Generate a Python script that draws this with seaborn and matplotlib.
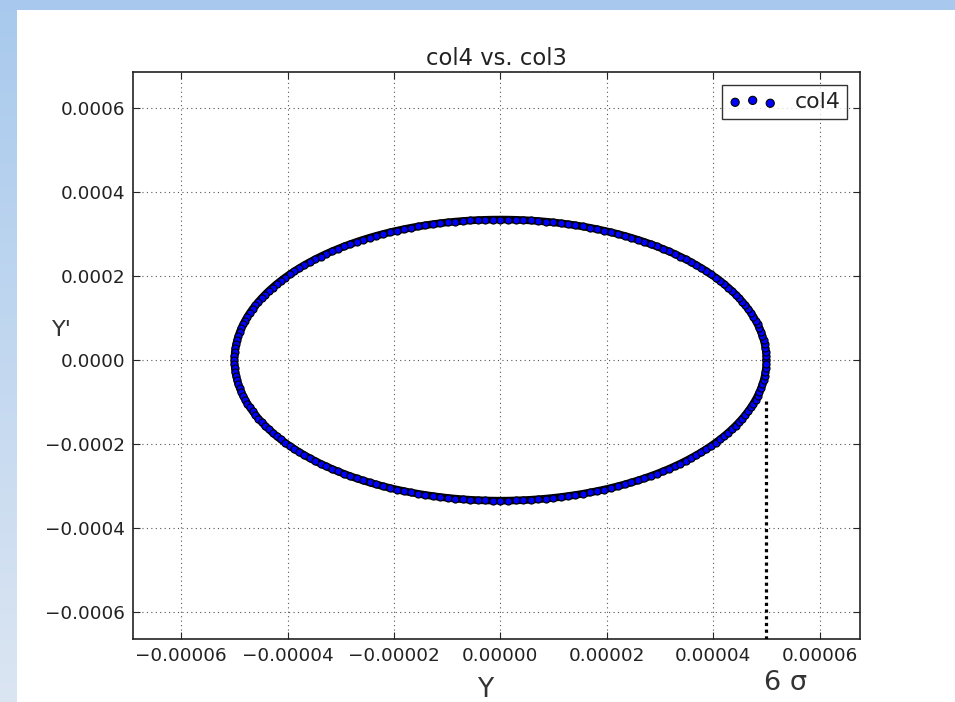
import numpy as np
import pandas as pd
import matplotlib
matplotlib.use("Agg")
import matplotlib.pyplot as plt
import seaborn as sns

# ---- data ----
sigma_y = 5.0e-5           # half-width of the phase-space ring (col3)
sigma_yp = 3.35e-4         # half-height of the phase-space ring (col4)
n_particles = 220
six_sigma_x = 5.0e-5       # position of the dotted "6 sigma" marker
six_sigma_top = -9.1e-5    # top of the dotted marker
xlim = (-6.9e-5, 6.76e-5)
ylim = (-6.64e-4, 6.86e-4)
xticks = [-0.00006, -0.00004, -0.00002, 0.0, 0.00002, 0.00004, 0.00006]
yticks = [-0.0006, -0.0004, -0.0002, 0.0, 0.0002, 0.0004, 0.0006]
xtick_labels = ["\u22120.00006", "\u22120.00004", "\u22120.00002", "0.00000",
                "0.00002", "0.00004", "0.00006"]
ytick_labels = ["\u22120.0006", "\u22120.0004", "\u22120.0002", "0.0000",
                "0.0002", "0.0004", "0.0006"]

phase = np.linspace(0, 2 * np.pi, n_particles, endpoint=False)
df = pd.DataFrame({"col3": sigma_y * np.cos(phase),
                   "col4": sigma_yp * np.sin(phase)})

sns.set_style("white")
plt.rcParams["font.family"] = ["DejaVu Sans"]

fig = plt.figure(figsize=(9.55, 7.02), dpi=100)

# background: light blue frame strips
bg = fig.add_axes([0, 0, 1, 1], zorder=-10)
grad = np.linspace(0, 1, 256).reshape(-1, 1)
top_c = np.array([0.66, 0.79, 0.93])
bot_c = np.array([0.86, 0.90, 0.95])
img = top_c[None, None, :] * (1 - grad[:, :, None]) + bot_c[None, None, :] * grad[:, :, None]
bg.imshow(img, extent=[0, 1, 0, 1], aspect="auto", origin="upper")
bg.add_patch(plt.Rectangle((17 / 955, 0), 1, 1 - 10 / 702, color="white", lw=0))
bg.set_xlim(0, 1)
bg.set_ylim(0, 1)
bg.axis("off")

ax = fig.add_axes([133.3 / 955, 1 - 638.7 / 702, (860 - 133.3) / 955, (638.7 - 72.3) / 702])
ax.set_facecolor("white")

# dark band under the particles (overlapping marker edges in the reference)
closed = pd.concat([df, df.iloc[:1]], ignore_index=True)
ax.plot(closed["col3"], closed["col4"], color="black", lw=5.5, zorder=2,
        solid_joinstyle="round")

sns.scatterplot(data=df, x="col3", y="col4", ax=ax, color="blue",
                edgecolor="black", linewidth=0.8, s=26, label="col4", zorder=3)

ax.plot([six_sigma_x, six_sigma_x], [ylim[0], six_sigma_top], color="black",
        lw=2.3, linestyle=(0, (1, 1.1)), zorder=4, solid_capstyle="butt")

ax.set_xlim(*xlim)
ax.set_ylim(*ylim)
ax.set_xticks(xticks)
ax.set_xticklabels(xtick_labels)
ax.set_yticks(yticks)
ax.set_yticklabels(ytick_labels)
ax.set_xlabel("")
ax.set_ylabel("")
ax.set_title("col4 vs. col3", fontsize=16.3, color="#222222", pad=5)

ax.grid(True, color="#555555", linestyle=(0, (1, 3)), linewidth=0.8)
ax.tick_params(direction="in", length=5, width=0.8, top=True, right=True,
               bottom=True, left=True, labelsize=13.2, labelcolor="#222222",
               pad=6)
for sp in ax.spines.values():
    sp.set_color("#222222")
    sp.set_linewidth(1.2)

leg = ax.legend(loc="upper right", scatterpoints=3, fontsize=15.8,
                frameon=True, fancybox=False, borderpad=0.3,
                handletextpad=0.8, borderaxespad=0.6, markerscale=1.15,
                handlelength=2.2)
leg.get_frame().set_edgecolor("black")
leg.get_frame().set_linewidth(1.0)
for t in leg.get_texts():
    t.set_color("#222222")

fig.text(485 / 955, 1 - 690 / 702, "Y", fontsize=19, color="#333333",
         ha="center", va="center")
fig.text(785 / 955, 1 - 683 / 702, "6 \u03c3", fontsize=19.5, color="#333333",
         ha="center", va="center")
fig.text(62 / 955, 1 - 330 / 702, "Y'", fontsize=16, color="#333333",
         ha="center", va="center")

fig.savefig("out.png", dpi=100)
